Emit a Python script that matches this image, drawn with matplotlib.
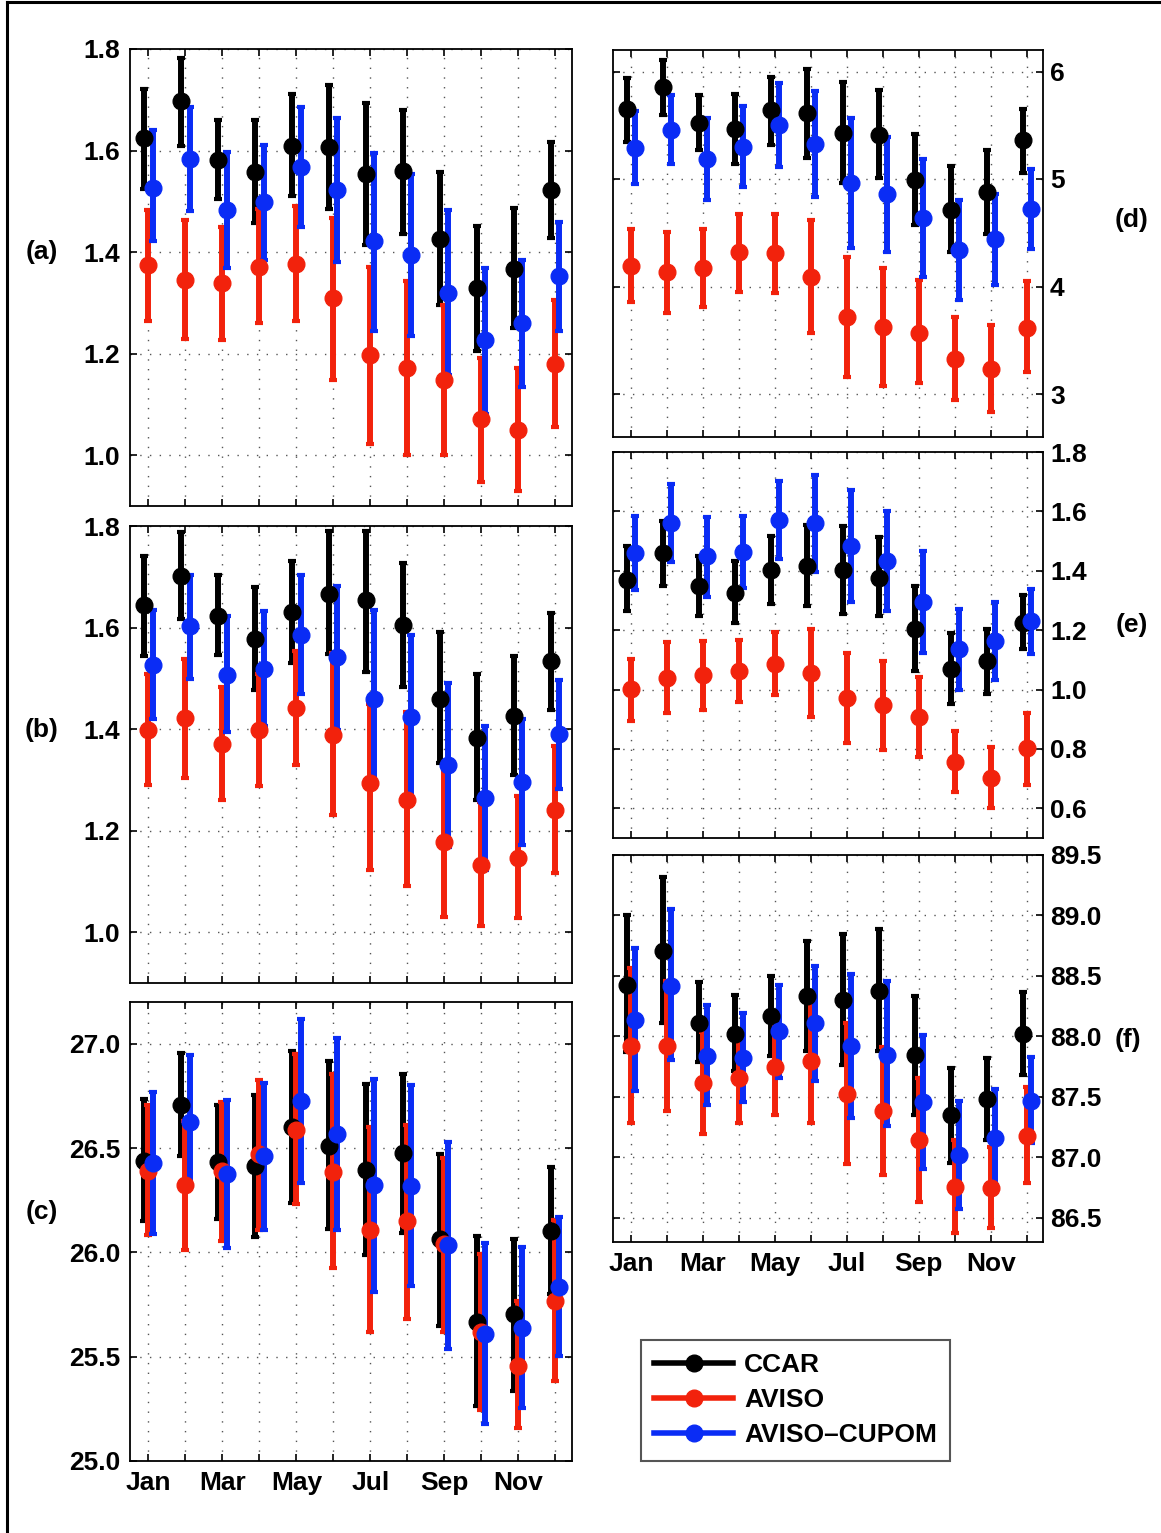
import matplotlib
matplotlib.use('Agg')
import matplotlib.pyplot as plt
import numpy as np
from matplotlib.lines import Line2D

plt.rcParams['font.family'] = ['Liberation Sans', 'DejaVu Sans']
plt.rcParams['font.weight'] = 'bold'

# ---------------- data ----------------
months = [1, 2, 3, 4, 5, 6, 7, 8, 9, 10, 11, 12]
month_labels = ['Jan', '', 'Mar', '', 'May', '', 'Jul', '', 'Sep', '', 'Nov', '']
series_names = ['CCAR', 'AVISO', 'AVISO–CUPOM']
panel_labels = ['(a)', '(b)', '(c)', '(d)', '(e)', '(f)']

# panel (a)
a_ccar = [1.624, 1.697, 1.582, 1.557, 1.609, 1.607, 1.553, 1.559, 1.425, 1.329, 1.367, 1.522]
a_ccar_lo = [1.524, 1.609, 1.504, 1.458, 1.511, 1.484, 1.414, 1.435, 1.296, 1.206, 1.251, 1.427]
a_ccar_hi = [1.721, 1.782, 1.660, 1.660, 1.711, 1.729, 1.693, 1.680, 1.557, 1.452, 1.486, 1.616]
a_aviso = [1.374, 1.346, 1.339, 1.371, 1.376, 1.309, 1.197, 1.171, 1.148, 1.071, 1.050, 1.179]
a_aviso_lo = [1.264, 1.228, 1.227, 1.260, 1.265, 1.149, 1.023, 1.000, 1.000, 0.948, 0.929, 1.056]
a_aviso_hi = [1.483, 1.463, 1.450, 1.484, 1.490, 1.467, 1.370, 1.344, 1.296, 1.191, 1.171, 1.306]
a_cupom = [1.527, 1.583, 1.483, 1.498, 1.567, 1.522, 1.421, 1.394, 1.320, 1.226, 1.260, 1.352]
a_cupom_lo = [1.421, 1.480, 1.368, 1.385, 1.449, 1.381, 1.245, 1.235, 1.158, 1.081, 1.135, 1.245]
a_cupom_hi = [1.641, 1.685, 1.598, 1.611, 1.685, 1.665, 1.596, 1.554, 1.482, 1.368, 1.385, 1.460]

# panel (b)
b_ccar = [1.644, 1.702, 1.623, 1.578, 1.631, 1.666, 1.654, 1.605, 1.460, 1.383, 1.425, 1.534]
b_ccar_lo = [1.543, 1.616, 1.545, 1.478, 1.530, 1.547, 1.513, 1.483, 1.333, 1.261, 1.309, 1.438]
b_ccar_hi = [1.741, 1.789, 1.704, 1.680, 1.731, 1.791, 1.791, 1.727, 1.591, 1.508, 1.543, 1.628]
b_aviso = [1.399, 1.421, 1.370, 1.399, 1.442, 1.388, 1.294, 1.261, 1.177, 1.133, 1.147, 1.240]
b_aviso_lo = [1.289, 1.304, 1.260, 1.287, 1.329, 1.230, 1.122, 1.092, 1.030, 1.013, 1.028, 1.116]
b_aviso_hi = [1.509, 1.539, 1.482, 1.508, 1.553, 1.549, 1.450, 1.434, 1.327, 1.256, 1.269, 1.366]
b_cupom = [1.527, 1.603, 1.507, 1.519, 1.585, 1.542, 1.460, 1.424, 1.330, 1.265, 1.296, 1.390]
b_cupom_lo = [1.419, 1.499, 1.394, 1.407, 1.470, 1.399, 1.287, 1.265, 1.168, 1.122, 1.171, 1.283]
b_cupom_hi = [1.635, 1.704, 1.622, 1.632, 1.703, 1.681, 1.635, 1.585, 1.490, 1.407, 1.419, 1.497]

# panel (c)
c_ccar = [26.440, 26.707, 26.432, 26.416, 26.600, 26.512, 26.395, 26.475, 26.064, 25.667, 25.704, 26.104]
c_ccar_lo = [26.152, 26.464, 26.160, 26.075, 26.235, 26.112, 25.987, 26.091, 25.648, 25.264, 25.336, 25.800]
c_ccar_hi = [26.736, 26.957, 26.704, 26.755, 26.965, 26.915, 26.808, 26.856, 26.472, 26.077, 26.064, 26.411]
c_aviso = [26.392, 26.325, 26.392, 26.472, 26.587, 26.387, 26.107, 26.149, 26.040, 25.616, 25.456, 25.768]
c_aviso_lo = [26.085, 26.011, 26.056, 26.107, 26.232, 25.925, 25.616, 25.680, 25.616, 25.243, 25.157, 25.384]
c_aviso_hi = [26.704, 26.629, 26.720, 26.827, 26.949, 26.853, 26.603, 26.611, 26.451, 25.992, 25.768, 26.155]
c_cupom = [26.429, 26.627, 26.376, 26.461, 26.725, 26.568, 26.323, 26.320, 26.037, 25.608, 25.637, 25.835]
c_cupom_lo = [26.088, 26.320, 26.019, 26.107, 26.331, 26.107, 25.811, 25.840, 25.536, 25.176, 25.256, 25.504]
c_cupom_hi = [26.768, 26.944, 26.728, 26.811, 27.120, 27.029, 26.832, 26.803, 26.528, 26.043, 26.024, 26.171]

# panel (d)
d_ccar = [5.647, 5.855, 5.521, 5.468, 5.638, 5.613, 5.431, 5.412, 4.989, 4.716, 4.880, 5.360]
d_ccar_lo = [5.344, 5.592, 5.273, 5.143, 5.313, 5.199, 4.964, 5.013, 4.571, 4.324, 4.487, 5.057]
d_ccar_hi = [5.938, 6.108, 5.777, 5.793, 5.947, 6.025, 5.901, 5.824, 5.415, 5.118, 5.273, 5.654]
d_aviso = [4.194, 4.138, 4.175, 4.317, 4.308, 4.085, 3.714, 3.621, 3.572, 3.325, 3.232, 3.618]
d_aviso_lo = [3.860, 3.751, 3.813, 3.952, 3.937, 3.566, 3.157, 3.077, 3.102, 2.947, 2.830, 3.201]
d_aviso_hi = [4.531, 4.509, 4.531, 4.679, 4.670, 4.617, 4.277, 4.169, 4.061, 3.714, 3.643, 4.054]
d_cupom = [5.292, 5.459, 5.190, 5.298, 5.499, 5.323, 4.964, 4.859, 4.639, 4.339, 4.438, 4.719]
d_cupom_lo = [4.951, 5.137, 4.803, 4.927, 5.112, 4.834, 4.361, 4.324, 4.092, 3.875, 4.014, 4.345]
d_cupom_hi = [5.632, 5.783, 5.570, 5.675, 5.892, 5.817, 5.567, 5.391, 5.190, 4.803, 4.859, 5.097]

# panel (e)
e_ccar = [1.370, 1.460, 1.348, 1.326, 1.401, 1.417, 1.404, 1.376, 1.205, 1.070, 1.096, 1.225]
e_ccar_lo = [1.264, 1.348, 1.247, 1.225, 1.289, 1.281, 1.256, 1.247, 1.062, 0.950, 0.984, 1.135]
e_ccar_hi = [1.482, 1.569, 1.449, 1.432, 1.516, 1.555, 1.552, 1.513, 1.350, 1.191, 1.205, 1.320]
e_aviso = [1.001, 1.038, 1.049, 1.062, 1.087, 1.057, 0.971, 0.948, 0.908, 0.757, 0.701, 0.802]
e_aviso_lo = [0.895, 0.920, 0.931, 0.958, 0.981, 0.908, 0.820, 0.797, 0.774, 0.654, 0.601, 0.678]
e_aviso_hi = [1.102, 1.160, 1.163, 1.166, 1.194, 1.205, 1.122, 1.096, 1.043, 0.861, 0.805, 0.922]
e_cupom = [1.460, 1.561, 1.449, 1.462, 1.570, 1.561, 1.485, 1.434, 1.294, 1.135, 1.163, 1.230]
e_cupom_lo = [1.335, 1.429, 1.311, 1.342, 1.438, 1.395, 1.295, 1.266, 1.124, 0.999, 1.032, 1.121]
e_cupom_hi = [1.585, 1.692, 1.580, 1.583, 1.704, 1.723, 1.673, 1.600, 1.466, 1.272, 1.295, 1.340]

# panel (f)
f_ccar = [88.429, 88.705, 88.112, 88.024, 88.168, 88.333, 88.300, 88.377, 87.845, 87.349, 87.479, 88.024]
f_ccar_lo = [87.873, 88.112, 87.790, 87.713, 87.837, 87.878, 87.762, 87.881, 87.349, 86.955, 87.142, 87.680]
f_ccar_hi = [89.003, 89.314, 88.451, 88.341, 88.498, 88.791, 88.846, 88.887, 88.338, 87.740, 87.818, 88.369]
f_aviso = [87.922, 87.919, 87.616, 87.660, 87.749, 87.798, 87.523, 87.382, 87.142, 86.756, 86.743, 87.175]
f_aviso_lo = [87.286, 87.385, 87.197, 87.286, 87.349, 87.280, 86.949, 86.858, 86.632, 86.376, 86.417, 86.784]
f_aviso_hi = [88.562, 88.460, 88.038, 88.030, 88.148, 88.305, 88.107, 87.914, 87.660, 87.142, 87.082, 87.578]
f_cupom = [88.134, 88.418, 87.840, 87.818, 88.046, 88.107, 87.920, 87.845, 87.459, 87.018, 87.161, 87.465]
f_cupom_lo = [87.550, 87.804, 87.432, 87.459, 87.658, 87.630, 87.327, 87.258, 86.900, 86.577, 86.770, 87.115]
f_cupom_hi = [88.727, 89.050, 88.259, 88.190, 88.429, 88.584, 88.520, 88.460, 88.010, 87.467, 87.561, 87.831]

# ---------------- style ----------------
W, H = 1161, 1533
colors = ['#000000', '#f2220c', '#0a2cf5']
offsets = [-0.11, 0.0, 0.11]
FS = 19

fig = plt.figure(figsize=(W / 100, H / 100), dpi=100)


def rect(l, t, r, b):
    return [l / W, 1 - b / H, (r - l) / W, (b - t) / H]


def panel(ax, series, ylim, yticks, fmt, right=False, xlabels=False):
    x = np.array(months, dtype=float)
    for (mean, lo, hi), col, off in zip(series, colors, offsets):
        mean = np.asarray(mean); lo = np.asarray(lo); hi = np.asarray(hi)
        ax.errorbar(x + off, mean, yerr=[mean - lo, hi - mean], fmt='o',
                    color=col, ms=12, elinewidth=4.3, capsize=2.6,
                    capthick=3.0, zorder=3)
    ax.set_xlim(0.5, 12.45)
    ax.set_ylim(*ylim)
    ax.set_yticks(yticks)
    ax.set_yticklabels([fmt.format(v) for v in yticks])
    ax.set_xticks(months)
    if xlabels:
        ax.set_xticklabels(month_labels)
    else:
        ax.set_xticklabels([])
    ax.grid(True, linestyle=(0, (1, 6)), color='#555555', linewidth=1.0)
    ax.set_axisbelow(True)
    ax.tick_params(direction='in', top=True, right=True, length=5,
                   width=1.2, labelsize=FS)
    ax.tick_params(axis='x', pad=7)
    if right:
        ax.tick_params(axis='y', labelleft=False, labelright=True, pad=5)
    else:
        ax.tick_params(axis='y', pad=7)
    for s in ax.spines.values():
        s.set_linewidth(1.3)
    for lab in ax.get_xticklabels() + ax.get_yticklabels():
        lab.set_fontweight('bold')


ax_a = fig.add_axes(rect(130, 49, 572, 506))
panel(ax_a, [(a_ccar, a_ccar_lo, a_ccar_hi), (a_aviso, a_aviso_lo, a_aviso_hi),
             (a_cupom, a_cupom_lo, a_cupom_hi)],
      (0.90, 1.80), [1.0, 1.2, 1.4, 1.6, 1.8], '{:.1f}')

ax_b = fig.add_axes(rect(130, 526, 572, 983))
panel(ax_b, [(b_ccar, b_ccar_lo, b_ccar_hi), (b_aviso, b_aviso_lo, b_aviso_hi),
             (b_cupom, b_cupom_lo, b_cupom_hi)],
      (0.90, 1.80), [1.0, 1.2, 1.4, 1.6, 1.8], '{:.1f}')

ax_c = fig.add_axes(rect(130, 1002, 572, 1461))
panel(ax_c, [(c_ccar, c_ccar_lo, c_ccar_hi), (c_aviso, c_aviso_lo, c_aviso_hi),
             (c_cupom, c_cupom_lo, c_cupom_hi)],
      (25.0, 27.2), [25.0, 25.5, 26.0, 26.5, 27.0], '{:.1f}', xlabels=True)

ax_d = fig.add_axes(rect(613, 50, 1043, 437))
panel(ax_d, [(d_ccar, d_ccar_lo, d_ccar_hi), (d_aviso, d_aviso_lo, d_aviso_hi),
             (d_cupom, d_cupom_lo, d_cupom_hi)],
      (2.6, 6.2), [3, 4, 5, 6], '{:.0f}', right=True)

ax_e = fig.add_axes(rect(613, 452, 1043, 838))
panel(ax_e, [(e_ccar, e_ccar_lo, e_ccar_hi), (e_aviso, e_aviso_lo, e_aviso_hi),
             (e_cupom, e_cupom_lo, e_cupom_hi)],
      (0.50, 1.80), [0.6, 0.8, 1.0, 1.2, 1.4, 1.6, 1.8], '{:.1f}', right=True)

ax_f = fig.add_axes(rect(613, 855, 1043, 1242))
panel(ax_f, [(f_ccar, f_ccar_lo, f_ccar_hi), (f_aviso, f_aviso_lo, f_aviso_hi),
             (f_cupom, f_cupom_lo, f_cupom_hi)],
      (86.3, 89.5), [86.5, 87.0, 87.5, 88.0, 88.5, 89.0, 89.5], '{:.1f}',
      right=True, xlabels=True)

# panel labels
label_pos = [(42, 252), (42, 730), (42, 1212), (1132, 220), (1132, 625), (1128, 1040)]
for lab, (px, py) in zip(panel_labels, label_pos):
    fig.text(px / W, 1 - py / H, lab, fontsize=FS, fontweight='bold',
             ha='center', va='center')

# legend
handles = [Line2D([], [], color=c, marker='o', ms=12, lw=4.0) for c in colors]
leg = fig.legend(handles, series_names, loc='upper left',
                 bbox_to_anchor=(641 / W, 1 - 1340 / H), borderaxespad=0,
                 prop={'size': FS, 'weight': 'bold'}, handlelength=3.0,
                 labelspacing=0.42, handletextpad=0.4, borderpad=0.5,
                 fancybox=False, framealpha=1)
leg.get_frame().set_edgecolor('#555555')
leg.get_frame().set_linewidth(1.5)

# figure border (left and top lines)
fig.add_artist(Line2D([7 / W, 7 / W], [0, 1 - 2 / H], transform=fig.transFigure,
                      color='k', lw=2.2))
fig.add_artist(Line2D([7 / W, 1], [1 - 2 / H, 1 - 2 / H], transform=fig.transFigure,
                      color='k', lw=2.2))

fig.savefig('out.png', dpi=100)
